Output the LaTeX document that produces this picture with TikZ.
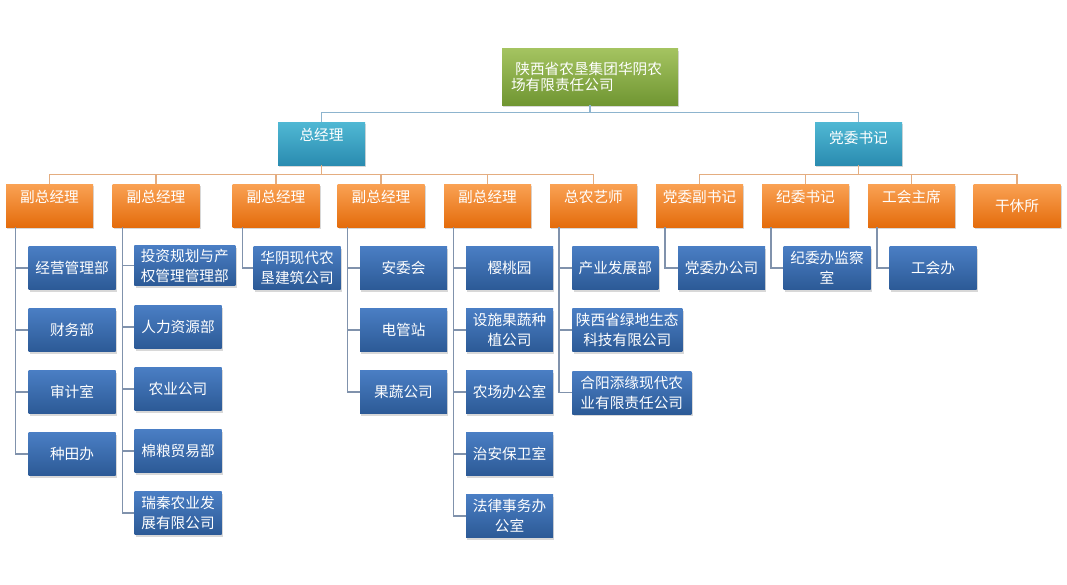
\documentclass[tikz,border=0pt]{standalone}
\usepackage{fontspec}
\setmainfont{Noto Sans CJK SC}
\usetikzlibrary{shadows}

\definecolor{farmtop}{RGB}{164,195,96}
\definecolor{farmbot}{RGB}{112,150,50}
\definecolor{headtop}{RGB}{80,184,212}
\definecolor{headbot}{RGB}{42,140,176}
\definecolor{vicetop}{RGB}{250,162,84}
\definecolor{vicebot}{RGB}{228,108,12}
\definecolor{unittop}{RGB}{74,126,196}
\definecolor{unitbot}{RGB}{44,90,150}
\definecolor{topline}{RGB}{141,180,206}
\definecolor{midline}{RGB}{228,173,128}
\definecolor{unitline}{RGB}{128,146,172}

\begin{document}
\begin{tikzpicture}[x=0.75pt,y=-0.75pt,node distance=46.5pt,
    every node/.style={font=\fontsize{11}{15}\selectfont,text=white,inner sep=0pt,align=center},
    box/.style={drop shadow={opacity=.3,shadow xshift=1pt,shadow yshift=-1.5pt},
                minimum width=65.25pt,minimum height=32.25pt},
    text up/.style={text height=8pt,text depth=13pt},
    farm node/.style={box,top color=farmtop,bottom color=farmbot,minimum width=132pt,
                      minimum height=42pt,text width=118.5pt,align=left,
                      font=\fontsize{11}{12}\selectfont},
    head node/.style={box,top color=headtop,bottom color=headbot},
    vice node/.style={box,top color=vicetop,bottom color=vicebot},
    unit node/.style={box,top color=unittop,bottom color=unitbot},
    top line/.style={draw=topline,line width=1pt},
    mid line/.style={draw=midline,line width=1pt},
    unit line/.style={draw=unitline,line width=1pt}]

  \path[use as bounding box,fill=white] (0,0) rectangle (1067,585);

  % top levels
  \node[farm node] (farm) at (590,77) {\hspace{0.3em}陕西省农垦集团华阴农\\场有限责任公司};
  \node[head node,text up] (gm) at (321.5,143.5) {总经理};
  \node[head node,text height=8pt,text depth=8pt] (party) at (858.5,143.5) {党委书记};

  \node[vice node,text up] (vp1) at (49.5,205.5) {副总经理};
  \node[vice node,text up] (vp2) at (156,205.5) {副总经理};
  \node[vice node,text up] (vp3) at (276,205.5) {副总经理};
  \node[vice node,text up] (vp4) at (381,205.5) {副总经理};
  \node[vice node,text up] (vp5) at (487.5,205.5) {副总经理};
  \node[vice node,text up] (agr) at (593.5,205.5) {总农艺师};
  \node[vice node,text up] (dsec) at (699.5,205.5) {党委副书记};
  \node[vice node,text up] (disc) at (805.5,205.5) {纪委书记};
  \node[vice node,text up] (union) at (911.5,205.5) {工会主席};
  \node[vice node] (retire) at (1017,205.5) {干休所};

  % units
  \node[unit node] (a1) at (72,268) {经营管理部};
  \node[unit node] (a2) [below of=a1] {财务部};
  \node[unit node] (a3) [below of=a2] {审计室};
  \node[unit node] (a4) [below of=a3] {种田办};

  \node[unit node,anchor=west,minimum width=75.75pt,minimum height=30pt] (b1) at (134,265.5) {投资规划与产\\权管理管理部};
  \node[unit node] (b2) at (178,327) {人力资源部};
  \node[unit node] (b3) [below of=b2] {农业公司};
  \node[unit node] (b4) [below of=b3] {棉粮贸易部};
  \node[unit node] (b5) [below of=b4] {瑞秦农业发\\展有限公司};

  \node[unit node] (c1) at (297,268) {华阴现代农\\垦建筑公司};

  \node[unit node] (d1) at (403.5,268) {安委会};
  \node[unit node] (d2) [below of=d1] {电管站};
  \node[unit node] (d3) [below of=d2] {果蔬公司};

  \node[unit node] (e1) at (509.5,268) {樱桃园};
  \node[unit node] (e2) [below of=e1] {设施果蔬种\\植公司};
  \node[unit node] (e3) [below of=e2] {农场办公室};
  \node[unit node] (e4) [below of=e3] {治安保卫室};
  \node[unit node] (e5) [below of=e4] {法律事务办\\公室};

  \node[unit node,anchor=west,minimum width=64.5pt] (f1) at (572,268) {产业发展部};
  \node[unit node,anchor=west,minimum width=82.5pt] (f2) at (572,330) {陕西省绿地生态\\科技有限公司};
  \node[unit node,anchor=west,minimum width=89.25pt] (f3) at (572,392.5) {合阳添缘现代农\\业有限责任公司};

  \node[unit node] (g1) at (721.5,268) {党委办公司};
  \node[unit node] (h1) at (827,268) {纪委办监察\\室};
  \node[unit node] (k1) at (933,268) {工会办};

  % connectors
  \draw[top line] (farm.south) -- ++(0,7) -| (gm.north);
  \draw[top line] (farm.south) -- ++(0,7) -| (party.north);

  \draw[mid line] (gm.south) -- ++(0,9) -| (vp1.north);
  \draw[mid line] (gm.south) -- ++(0,9) -| (vp2.north);
  \draw[mid line] (gm.south) -- ++(0,9) -| (vp3.north);
  \draw[mid line] (gm.south) -- ++(0,9) -| (vp4.north);
  \draw[mid line] (gm.south) -- ++(0,9) -| (vp5.north);
  \draw[mid line] (gm.south) -- ++(0,9) -| (agr.north);
  \draw[mid line] (party.south) -- ++(0,9) -| (dsec.north);
  \draw[mid line] (party.south) -- ++(0,9) -| (disc.north);
  \draw[mid line] (party.south) -- ++(0,9) -| (union.north);
  \draw[mid line] (party.south) -- ++(0,9) -| (retire.north);

  \draw[unit line] ([xshift=7.5pt]vp1.south west) |- (a1.west);
  \draw[unit line] ([xshift=7.5pt]vp1.south west) |- (a2.west);
  \draw[unit line] ([xshift=7.5pt]vp1.south west) |- (a3.west);
  \draw[unit line] ([xshift=7.5pt]vp1.south west) |- (a4.west);
  \draw[unit line] ([xshift=7.5pt]vp2.south west) |- (b1.west);
  \draw[unit line] ([xshift=7.5pt]vp2.south west) |- (b2.west);
  \draw[unit line] ([xshift=7.5pt]vp2.south west) |- (b3.west);
  \draw[unit line] ([xshift=7.5pt]vp2.south west) |- (b4.west);
  \draw[unit line] ([xshift=7.5pt]vp2.south west) |- (b5.west);
  \draw[unit line] ([xshift=7.5pt]vp3.south west) |- (c1.west);
  \draw[unit line] ([xshift=7.5pt]vp4.south west) |- (d1.west);
  \draw[unit line] ([xshift=7.5pt]vp4.south west) |- (d2.west);
  \draw[unit line] ([xshift=7.5pt]vp4.south west) |- (d3.west);
  \draw[unit line] ([xshift=7.5pt]vp5.south west) |- (e1.west);
  \draw[unit line] ([xshift=7.5pt]vp5.south west) |- (e2.west);
  \draw[unit line] ([xshift=7.5pt]vp5.south west) |- (e3.west);
  \draw[unit line] ([xshift=7.5pt]vp5.south west) |- (e4.west);
  \draw[unit line] ([xshift=7.5pt]vp5.south west) |- (e5.west);
  \draw[unit line] ([xshift=7pt]agr.south west) |- (f1.west);
  \draw[unit line] ([xshift=7pt]agr.south west) |- (f2.west);
  \draw[unit line] ([xshift=7pt]agr.south west) |- (f3.west);
  \draw[unit line] ([xshift=7pt]dsec.south west) |- (g1.west);
  \draw[unit line] ([xshift=7pt]disc.south west) |- (h1.west);
  \draw[unit line] ([xshift=7pt]union.south west) |- (k1.west);
\end{tikzpicture}
\end{document}
